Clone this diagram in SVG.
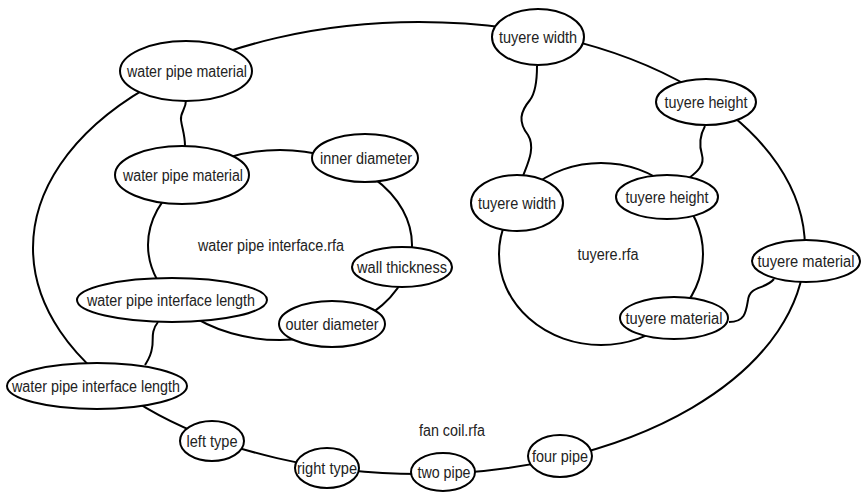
<svg xmlns="http://www.w3.org/2000/svg" width="862" height="492" viewBox="0 0 862 492">
<style>
  .c { fill: none; stroke: #000; stroke-width: 2; }
  .n { fill: #fff; stroke: #000; stroke-width: 2; }
  .t { font-family: "Liberation Sans", Arial, sans-serif; font-size: 16px; fill: #222; text-anchor: middle; }
</style>
<rect width="862" height="492" fill="#fff"/>
<g id="fan-coil">
  <ellipse class="c" cx="419" cy="248" rx="386" ry="226"/>
  <text class="t" x="452" y="436" textLength="66" lengthAdjust="spacingAndGlyphs">fan coil.rfa</text>
</g>
<g id="water-pipe-interface">
  <ellipse class="c" cx="280" cy="245" rx="132" ry="95"/>
  <text class="t" x="271" y="251" textLength="146" lengthAdjust="spacingAndGlyphs">water pipe interface.rfa</text>
</g>
<g id="tuyere">
  <ellipse class="c" cx="601" cy="254" rx="102" ry="91"/>
  <text class="t" x="608" y="260" textLength="61" lengthAdjust="spacingAndGlyphs">tuyere.rfa</text>
</g>
<g id="connectors">
  <path class="c" d="M186,100 C186,110 180,112 181,120 C182,128 185,135 185,146"/>
  <path class="c" d="M537,66 C537,80 536,92 530,100 C520,112 518,122 528,135 C536,148 527,165 523,176"/>
  <path class="c" d="M705,126 C700,135 699,145 702,155 C705,165 697,172 689,178"/>
  <path class="c" d="M774,279 C765,290 750,285 748,300 C746,312 745,322 729,322"/>
  <path class="c" d="M158,322 C150,332 154,340 152,348 C151,356 148,360 145,365"/>
</g>
<g id="wpm-outer"><ellipse class="n" cx="186" cy="71" rx="66" ry="30"/><text class="t" x="187" y="77" textLength="120" lengthAdjust="spacingAndGlyphs">water pipe material</text></g>
<g id="wpm-inner"><ellipse class="n" cx="182" cy="175" rx="67" ry="29"/><text class="t" x="183" y="181" textLength="120" lengthAdjust="spacingAndGlyphs">water pipe material</text></g>
<g id="inner-diameter"><ellipse class="n" cx="365" cy="158" rx="53" ry="24"/><text class="t" x="366" y="164" textLength="92" lengthAdjust="spacingAndGlyphs">inner diameter</text></g>
<g id="wall-thickness"><ellipse class="n" cx="402" cy="267" rx="50" ry="20"/><text class="t" x="402" y="273" textLength="90" lengthAdjust="spacingAndGlyphs">wall thickness</text></g>
<g id="outer-diameter"><ellipse class="n" cx="332" cy="324" rx="53" ry="23"/><text class="t" x="332" y="330" textLength="93" lengthAdjust="spacingAndGlyphs">outer diameter</text></g>
<g id="wpil-inner"><ellipse class="n" cx="172" cy="300" rx="95" ry="22"/><text class="t" x="171" y="306" textLength="168" lengthAdjust="spacingAndGlyphs">water pipe interface length</text></g>
<g id="wpil-outer"><ellipse class="n" cx="97" cy="386" rx="90" ry="23"/><text class="t" x="96" y="392" textLength="168" lengthAdjust="spacingAndGlyphs">water pipe interface length</text></g>
<g id="left-type"><ellipse class="n" cx="212" cy="441" rx="32" ry="20"/><text class="t" x="212" y="447" textLength="51" lengthAdjust="spacingAndGlyphs">left type</text></g>
<g id="right-type"><ellipse class="n" cx="327" cy="468" rx="32" ry="20"/><text class="t" x="327" y="474" textLength="60" lengthAdjust="spacingAndGlyphs">right type</text></g>
<g id="two-pipe"><ellipse class="n" cx="443" cy="472" rx="32" ry="19"/><text class="t" x="444" y="478" textLength="53" lengthAdjust="spacingAndGlyphs">two pipe</text></g>
<g id="four-pipe"><ellipse class="n" cx="560" cy="456" rx="32" ry="21"/><text class="t" x="560" y="462" textLength="56" lengthAdjust="spacingAndGlyphs">four pipe</text></g>
<g id="tuyere-material-outer"><ellipse class="n" cx="806" cy="261" rx="54" ry="21"/><text class="t" x="806" y="267" textLength="97" lengthAdjust="spacingAndGlyphs">tuyere material</text></g>
<g id="tuyere-material-inner"><ellipse class="n" cx="674" cy="318" rx="54" ry="21"/><text class="t" x="674" y="324" textLength="97" lengthAdjust="spacingAndGlyphs">tuyere material</text></g>
<g id="tuyere-width-inner"><ellipse class="n" cx="517" cy="203" rx="46" ry="28"/><text class="t" x="517" y="209" textLength="78" lengthAdjust="spacingAndGlyphs">tuyere width</text></g>
<g id="tuyere-height-inner"><ellipse class="n" cx="667" cy="197" rx="51" ry="22"/><text class="t" x="667" y="203" textLength="83" lengthAdjust="spacingAndGlyphs">tuyere height</text></g>
<g id="tuyere-width-outer"><ellipse class="n" cx="538" cy="37" rx="46" ry="28"/><text class="t" x="538" y="43" textLength="78" lengthAdjust="spacingAndGlyphs">tuyere width</text></g>
<g id="tuyere-height-outer"><ellipse class="n" cx="706" cy="102" rx="50" ry="23"/><text class="t" x="706" y="108" textLength="83" lengthAdjust="spacingAndGlyphs">tuyere height</text></g>
</svg>
